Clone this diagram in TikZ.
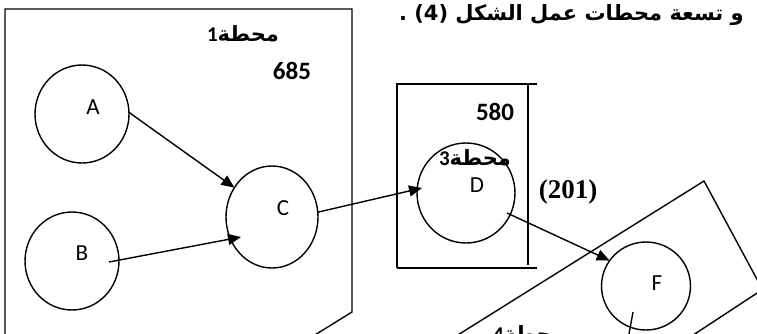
\documentclass[tikz,border=0pt]{standalone}
\usepackage{fontspec}
\setmainfont{Carlito}
\newfontfamily\arabicfont[Script=Arabic]{DejaVu Sans}
\newfontfamily\timesfont{Liberation Serif}
\TeXXeTstate=1
\usetikzlibrary{shapes.geometric,arrows.meta}

\begin{document}
\begin{tikzpicture}[x=1pt,y=-1pt,
  every node/.style={inner sep=0pt,outer sep=0pt},
  ring/.style={ellipse,draw,line width=1.4pt},
  flow/.style={-{Triangle[length=13pt,width=11pt]},line width=1.4pt},
  edge/.style={line width=1.4pt},
  letter/.style={font=\fontsize{23}{27}\selectfont},
  num/.style={font=\fontsize{25}{29}\selectfont\bfseries},
  arlabel/.style={font=\fontsize{21}{24}\selectfont\arabicfont\bfseries}]

\useasboundingbox (0,0) rectangle (757,333);
\clip (0,0) rectangle (757,333);

% station frames
\draw[edge] (5,345) -- (5,9) -- (352,9) -- (352,312) -- (302,343);
\draw[edge] (397,268) -- (397,84) -- (537,84);
\draw[edge] (528,84) -- (528,265);
\draw[edge] (397,268) -- (537,268);
\draw[edge] (445,343) -- (704,181) -- (762.5,289.5) -- (681,343);

% work centres
\node[ring,minimum width=94pt,minimum height=98pt] (a) at (82,114) {};
\node[ring,minimum width=94pt,minimum height=98pt] (b) at (72,261) {};
\node[ring,minimum width=92pt,minimum height=102pt] (c) at (272,217) {};
\node[ring,minimum width=98pt,minimum height=100pt] (d) at (466,193) {};
\node[ring,minimum width=89pt,minimum height=88pt] (f) at (646,286) {};

\node[letter] (la) at (93,107) {A};
\node[letter] (lb) at (82,253) {B};
\node[letter] (lc) at (283,208) {C};
\node[letter] (ld) at (477,185) {D};
\node[letter] (lf) at (657,283) {F};

% flow between centres
\draw[flow] (a.2) -- (c.142);
\draw[flow] ([shift={(37,1)}]b.center) -- ([shift={(-31,20)}]c.center);
\draw[flow] (c.6) -- ([shift={(-44,-5)}]d.center);
\draw[flow] ([shift={(41,20)}]d.center) -- (f.145);
\coordinate (fout) at (627,345);
\draw[edge] ([shift={(-13,26)}]f.center) -- (fout);

% station labels and times
\node[arlabel] (s1) at (243,34) {\beginR محطة{\normalfont\bfseries 1}\endR};
\node[num] (t1) at (292,71) {685};
\node[num] (t3) at (495,112) {580};
\node[arlabel] (s3) at (475,158) {\beginR محطة{\normalfont\bfseries 3}\endR};
\node[font=\fontsize{27}{30}\selectfont\timesfont\bfseries] (t4) at (568,192) {(201)};
\node[arlabel,anchor=base west] (s4) at (493,341) {\beginR محطة{\normalfont\bfseries 4}\endR};

% caption line
\node[font=\fontsize{21}{25}\selectfont\arabicfont\bfseries,anchor=base west] (cap) at (399,20)
  {\beginR و تسعة محطات عمل الشكل \beginL(4)\endL{} .\endR};
\end{tikzpicture}
\end{document}
